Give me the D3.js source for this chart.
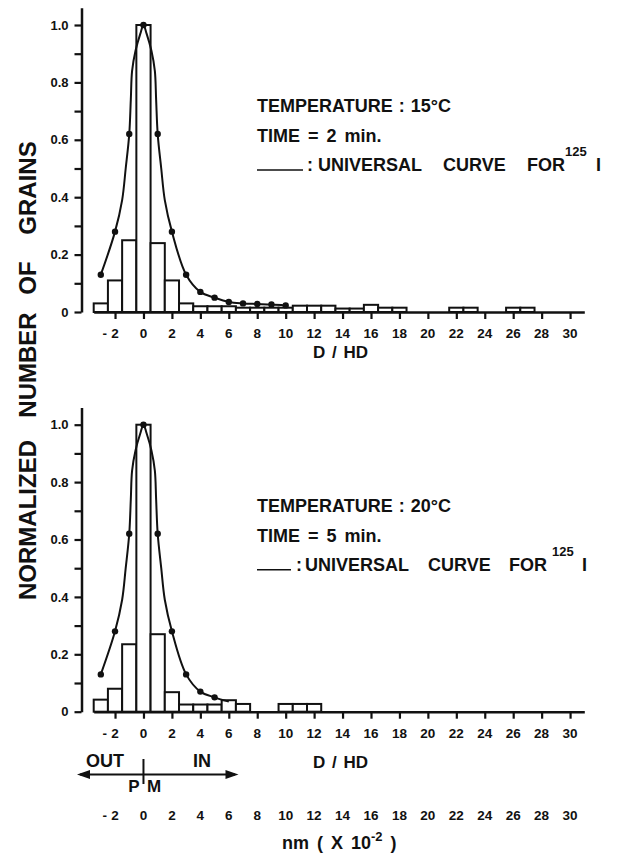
<!DOCTYPE html>
<html>
<head>
<meta charset="utf-8">
<script src="https://cdn.jsdelivr.net/npm/d3@7"></script>
<style>
  body { margin: 0; background: #fff; }
  svg { display: block; background: #fff; }
  text { font-family: "Liberation Sans", Arial, sans-serif; font-weight: bold; fill: #111; }
</style>
</head>
<body>
<svg id="chart" width="627" height="854"></svg>
<script>
// ---- data -------------------------------------------------------------
// x tick values (D/HD units, also reused for the nm scale)
const xTickValues = [-2, 0, 2, 4, 6, 8, 10, 12, 14, 16, 18, 20, 22, 24, 26, 28, 30];
// y ticks every 0.1, labels on every other tick
const yTickValues = [0, 0.1, 0.2, 0.3, 0.4, 0.5, 0.6, 0.7, 0.8, 0.9, 1.0];
const yTickLabels = ["0", "", "0.2", "", "0.4", "", "0.6", "", "0.8", "", "1.0"];

// 15 °C, 2 min: histogram bins (bin centre in D/HD) and normalized counts
const topBinX = [-3, -2, -1, 0, 1, 2, 3, 4, 5, 6, 7, 8, 9, 10, 11, 12, 13, 14, 15, 16, 17, 18, 22, 23, 26, 27];
const topBinY = [0.03, 0.11, 0.25, 1.0, 0.24, 0.11, 0.03, 0.02, 0.02, 0.02, 0.015, 0.015, 0.015, 0.015,
                 0.022, 0.022, 0.022, 0.012, 0.012, 0.025, 0.015, 0.015, 0.015, 0.015, 0.015, 0.015];

// 20 °C, 5 min
const botBinX = [-3, -2, -1, 0, 1, 2, 3, 4, 5, 6, 7, 10, 11, 12];
const botBinY = [0.042, 0.08, 0.235, 1.0, 0.27, 0.068, 0.025, 0.025, 0.025, 0.04, 0.027, 0.027, 0.027, 0.027];

// universal curve for 125I (same curve in both panels)
const curveX = [-3, -2, -1.5, -1.25, -1, -0.89, -0.8, -0.56, -0.22, 0,
                0.22, 0.56, 0.8, 0.89, 1, 1.25, 1.5, 2, 3, 4, 5, 6, 7, 8, 9, 10];
const curveY = [0.13, 0.28, 0.39, 0.5, 0.62, 0.74, 0.84, 0.91, 0.97, 1.0,
                0.97, 0.91, 0.84, 0.74, 0.62, 0.5, 0.39, 0.28, 0.13, 0.07, 0.05, 0.035, 0.03, 0.028, 0.026, 0.023];
// curve points that carry a marker
const markerX = [-3, -2, -1, 0, 1, 2, 3, 4, 5, 6, 7, 8, 9, 10];

// ---- layout -----------------------------------------------------------
const svg = d3.select("#chart");
const x = d3.scaleLinear().domain([-3.5, 31]).range([93.7, 584.3]);
const axisX = 81.5;
const INK = "#111";

function fmtMinus(g, v, px, py, size) {
  // digits centred on the tick, minus sign hanging to the left
  const a = Math.abs(v);
  g.append("text").attr("x", px).attr("y", py).attr("text-anchor", "middle")
    .attr("font-size", size).text(a);
  if (v < 0) {
    g.append("text").attr("x", px - 8).attr("y", py).attr("text-anchor", "end")
      .attr("font-size", size).text("-");
  }
}

function drawPanel(opt) {
  const y = d3.scaleLinear().domain([0, 1]).range([opt.base, opt.base - 287]);
  const g = svg.append("g");

  // y axis
  const yAxis = d3.axisLeft(y.copy().domain([0, 1.06]).range([opt.base, opt.base - 287 * 1.06]))
    .tickValues(yTickValues)
    .tickFormat((d, i) => yTickLabels[i])
    .tickSize(7).tickSizeOuter(0).tickPadding(6);
  const ya = g.append("g").attr("transform", `translate(${axisX},0)`).call(yAxis);
  ya.select(".domain").attr("stroke", INK).attr("stroke-width", 2.5);
  ya.selectAll(".tick line").attr("stroke", INK).attr("stroke-width", 2.2);
  ya.selectAll(".tick text").attr("font-size", 13).attr("font-family", null).attr("fill", INK);

  // x axis
  const xAxis = d3.axisBottom(x).tickValues(xTickValues).tickFormat("")
    .tickSize(7).tickSizeOuter(0);
  const xa = g.append("g").attr("transform", `translate(0,${opt.base})`).call(xAxis);
  xa.select(".domain").attr("stroke", INK).attr("stroke-width", 2.5);
  xa.selectAll(".tick line").attr("stroke", INK).attr("stroke-width", 2.2);
  xTickValues.forEach(v => fmtMinus(g, v, x(v), opt.base + 26, 13.5));

  // histogram bars
  const w = x(0.5) - x(-0.5);
  g.append("g").selectAll("rect")
    .data(opt.binX.map((b, i) => ({ b, v: opt.binY[i] })))
    .join("rect")
    .attr("x", d => x(d.b - 0.5))
    .attr("width", w)
    .attr("y", d => y(d.v))
    .attr("height", d => y(0) - y(d.v))
    .attr("fill", "#fff")
    .attr("stroke", INK)
    .attr("stroke-width", 2);

  // universal curve
  const pts = curveX.map((cx, i) => [cx, curveY[i]]).filter(p => p[0] <= opt.curveEnd);
  g.append("path")
    .attr("d", d3.line().x(p => x(p[0])).y(p => y(p[1])).curve(d3.curveCatmullRom.alpha(0.5))(pts))
    .attr("fill", "none").attr("stroke", INK).attr("stroke-width", 2);
  g.append("g").selectAll("circle")
    .data(pts.filter(p => markerX.includes(p[0]) && p[0] <= opt.markerEnd))
    .join("circle")
    .attr("cx", p => x(p[0])).attr("cy", p => y(p[1])).attr("r", 3.2).attr("fill", INK);

  // annotation block
  const t = g.append("g");
  t.append("text").attr("x", 257).attr("y", opt.base - 200).attr("font-size", 18)
    .attr("word-spacing", 1).text(opt.temp);
  t.append("text").attr("x", 257).attr("y", opt.base - 170).attr("font-size", 18)
    .attr("word-spacing", 3).text(opt.time);
  const ly = opt.base - 141;
  t.append("line").attr("x1", 257).attr("x2", opt.lg.lineEnd)
    .attr("y1", ly - 1).attr("y2", ly - 1).attr("stroke", INK).attr("stroke-width", 1.6);
  t.append("text").attr("x", opt.lg.colon).attr("y", ly).attr("font-size", 18).text(":");
  t.append("text").attr("x", opt.lg.w1).attr("y", ly).attr("font-size", 18).text("UNIVERSAL");
  t.append("text").attr("x", opt.lg.w2).attr("y", ly).attr("font-size", 18).text("CURVE");
  t.append("text").attr("x", opt.lg.w3).attr("y", ly).attr("font-size", 18).text("FOR");
  t.append("text").attr("x", opt.lg.sup).attr("y", ly - 15).attr("font-size", 13).text("125");
  t.append("text").attr("x", opt.lg.iso).attr("y", ly).attr("font-size", 18).text("I");

  return { g, y };
}

const panelTop = drawPanel({
  base: 312, binX: topBinX, binY: topBinY, curveEnd: 10, markerEnd: 10,
  temp: "TEMPERATURE : 15°C", time: "TIME = 2 min.",
  lg: { lineEnd: 303, colon: 307, w1: 318, w2: 443, w3: 527, sup: 565, iso: 596 }
});
const panelBottom = drawPanel({
  base: 711.7, binX: botBinX, binY: botBinY, curveEnd: 6, markerEnd: 5,
  temp: "TEMPERATURE : 20°C", time: "TIME = 5 min.",
  lg: { lineEnd: 291, colon: 296, w1: 305, w2: 428, w3: 509, sup: 552, iso: 582 }
});

// x-axis titles
svg.append("text").attr("x", 313).attr("y", 358).attr("font-size", 17).attr("word-spacing", 2).text("D / HD");
svg.append("text").attr("x", 313).attr("y", 768).attr("font-size", 17).attr("word-spacing", 2).text("D / HD");

// plasma membrane sketch: OUT / IN arrow with P | M marker at zero
const ay = 774.5;
svg.append("line").attr("x1", 80).attr("x2", 235).attr("y1", ay).attr("y2", ay)
  .attr("stroke", INK).attr("stroke-width", 2);
svg.append("path").attr("d", `M77,${ay} L90,${ay - 4.5} L90,${ay + 4.5} Z`).attr("fill", INK);
svg.append("path").attr("d", `M238.5,${ay} L225.5,${ay - 4.5} L225.5,${ay + 4.5} Z`).attr("fill", INK);
svg.append("line").attr("x1", x(0)).attr("x2", x(0)).attr("y1", 759).attr("y2", 784)
  .attr("stroke", INK).attr("stroke-width", 2);
svg.append("text").attr("x", 86).attr("y", 767).attr("font-size", 18).text("OUT");
svg.append("text").attr("x", 193).attr("y", 767).attr("font-size", 18).text("IN");
svg.append("text").attr("x", x(0) - 4).attr("y", 792).attr("text-anchor", "end").attr("font-size", 17).text("P");
svg.append("text").attr("x", x(0) + 3.5).attr("y", 792).attr("font-size", 17).text("M");

// nm scale (same positions as D/HD ticks)
const nm = svg.append("g");
xTickValues.forEach(v => fmtMinus(nm, v, x(v), 820, 13.5));
const nmLabel = svg.append("text").attr("x", 282).attr("y", 849).attr("font-size", 18).attr("word-spacing", 3);
nmLabel.append("tspan").text("nm  ( X 10");
nmLabel.append("tspan").attr("dy", -8).attr("font-size", 13).text("-2");
nmLabel.append("tspan").attr("dy", 8).text(" )");

// y-axis title, word by word
const yTitleWords = ["NORMALIZED", "NUMBER", "OF", "GRAINS"];
const yTitleCentres = [520, 365, 278, 188];
yTitleWords.forEach((wd, i) => {
  svg.append("text")
    .attr("transform", `translate(36,${yTitleCentres[i]}) rotate(-90)`)
    .attr("text-anchor", "middle").attr("font-size", 24).text(wd);
});
</script>
</body>
</html>
